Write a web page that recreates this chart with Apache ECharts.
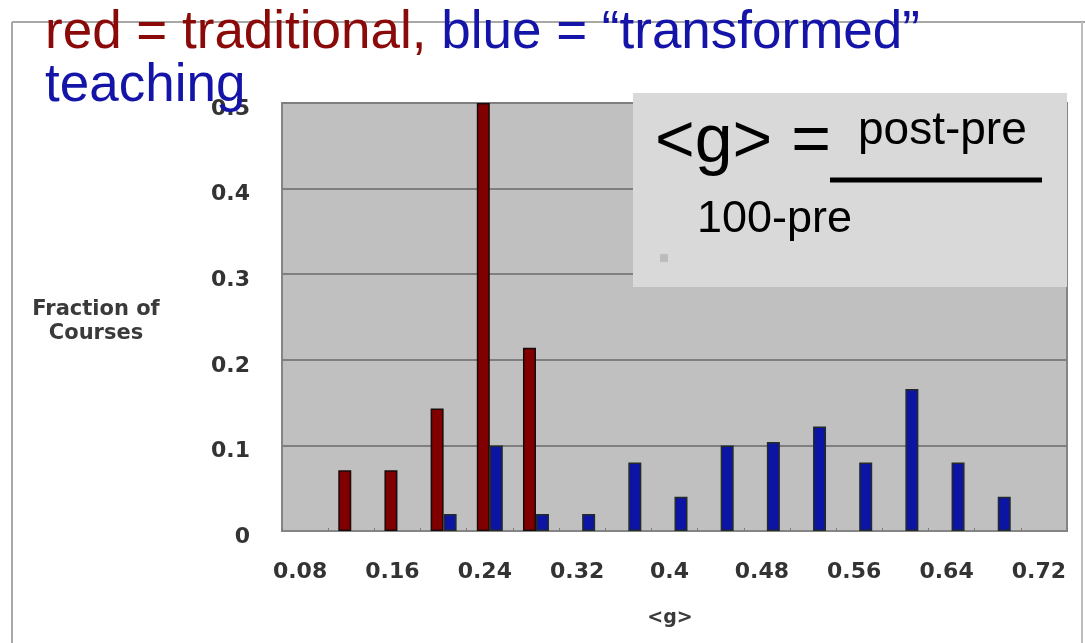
<!DOCTYPE html>
<html><head><meta charset="utf-8">
<script src="https://cdn.jsdelivr.net/npm/echarts@6.0.0/dist/echarts.min.js"></script>
<style>html,body{margin:0;padding:0;background:#fff;}#c{width:1085px;height:643px;}</style>
</head><body><div id="c"></div>
<script>
// g-value bins (category axis)
const categories = ['0.08','0.12','0.16','0.2','0.24','0.28','0.32','0.36','0.4','0.44','0.48','0.52','0.56','0.6','0.64','0.68','0.72'];
// red = traditional teaching (fraction of courses)
const traditional = [null, 0.071, 0.071, 0.143, 0.5, 0.214, null, null, null, null, null, null, null, null, null, null, null];
// blue = "transformed" teaching (fraction of courses)
const transformed = [null, null, null, 0.02, 0.1, 0.02, 0.02, 0.08, 0.04, 0.1, 0.104, 0.122, 0.08, 0.166, 0.08, 0.04, null];

const chart = echarts.init(document.getElementById('c'), null, {renderer: 'canvas'});
const tickFont = {fontFamily: 'DejaVu Sans', fontWeight: 'bold', fontSize: 22, color: '#333333'};
const nameFont = {fontFamily: 'DejaVu Sans', fontWeight: 'bold', fontSize: 21, lineHeight: 24, color: '#3a3a3a', align: 'center'};

chart.setOption({
  animation: false,
  backgroundColor: '#ffffff',
  title: {
    left: 45, top: 7, padding: 0,
    text: '{r|red = traditional,} {b|blue = \u201ctransformed\u201d}\n{b|teaching}',
    textStyle: {
      fontFamily: 'Liberation Sans', fontWeight: 'normal', fontSize: 53, lineHeight: 53,
      rich: {
        r: {color: '#8a0a0a', fontFamily: 'Liberation Sans', fontWeight: 'normal', fontSize: 53, lineHeight: 53},
        b: {color: '#1414a8', fontFamily: 'Liberation Sans', fontWeight: 'normal', fontSize: 53, lineHeight: 53}
      }
    },
    z: 20
  },
  grid: {
    left: 282, right: 18, top: 103, bottom: 112,
    show: true, backgroundColor: '#c0c0c0', borderColor: '#858585', borderWidth: 2
  },
  xAxis: {
    type: 'category',
    data: categories,
    name: '<g>',
    nameLocation: 'middle',
    nameGap: 87,
    nameTextStyle: {fontFamily: 'DejaVu Sans', fontWeight: 'bold', fontSize: 19, color: '#3a3a3a', verticalAlign: 'middle', padding: [0, 9, 0, 0]},
    axisLine: {show: true, lineStyle: {color: '#858585', width: 2}},
    axisTick: {show: true, inside: true, length: 3, interval: 0, lineStyle: {color: '#7a7a7a'}},
    axisLabel: Object.assign({interval: 1, margin: 41, verticalAlign: 'middle', padding: [0, 10, 0, 0]}, tickFont)
  },
  yAxis: {
    type: 'value',
    min: 0, max: 0.5, interval: 0.1,
    name: '{s| }\n{n|Fraction of}\n{n|Courses}',
    nameLocation: 'middle',
    nameRotate: 0,
    nameGap: 186,
    nameTextStyle: Object.assign({verticalAlign: 'middle', rich: {
      s: {fontSize: 6, lineHeight: 9, height: 9},
      n: Object.assign({}, nameFont)
    }}, nameFont),
    axisLine: {show: false},
    axisTick: {show: false},
    axisLabel: Object.assign({margin: 32, lineHeight: 12, verticalAlign: 'top'}, tickFont),
    splitLine: {show: true, lineStyle: {color: '#7f7f7f', width: 2}}
  },
  series: [
    {
      name: 'traditional', type: 'bar', data: traditional,
      barWidth: 13, barGap: '0%',
      itemStyle: {color: '#800000', borderColor: '#1a0a0a', borderWidth: 1.5}
    },
    {
      name: 'transformed', type: 'bar', data: transformed,
      barWidth: 13, barGap: '0%',
      itemStyle: {color: '#0c14a4', borderColor: '#222a2a', borderWidth: 1.5}
    }
  ],
  graphic: [
    // outer slide frame
    {type: 'line', shape: {x1: 12, y1: 22, x2: 1085, y2: 22}, style: {stroke: '#a8a8a8', lineWidth: 2}, z: 1},
    {type: 'line', shape: {x1: 12, y1: 22, x2: 12, y2: 643}, style: {stroke: '#a8a8a8', lineWidth: 2}, z: 1},
    {type: 'line', shape: {x1: 1082, y1: 22, x2: 1082, y2: 643}, style: {stroke: '#bdbdbd', lineWidth: 2}, z: 1},
    // formula box
    {type: 'rect', shape: {x: 633, y: 93, width: 434, height: 194}, style: {fill: '#d9d9d9'}, z: 15},
    {type: 'rect', shape: {x: 660, y: 254, width: 8, height: 8}, style: {fill: '#bcbcbc'}, z: 16},
    {type: 'text', left: 655, top: 109, style: {text: '<g> =', font: '68px "Liberation Sans"', fill: '#000'}, z: 16},
    {type: 'text', left: 858, top: 108, style: {text: 'post-pre', font: '46px "Liberation Sans"', fill: '#000'}, z: 16},
    {type: 'line', shape: {x1: 830, y1: 180, x2: 1042, y2: 180}, style: {stroke: '#000', lineWidth: 5}, z: 16},
    {type: 'text', left: 697, top: 197, style: {text: '100-pre', font: '45px "Liberation Sans"', fill: '#000'}, z: 16}
  ]
});
</script>
</body></html>
